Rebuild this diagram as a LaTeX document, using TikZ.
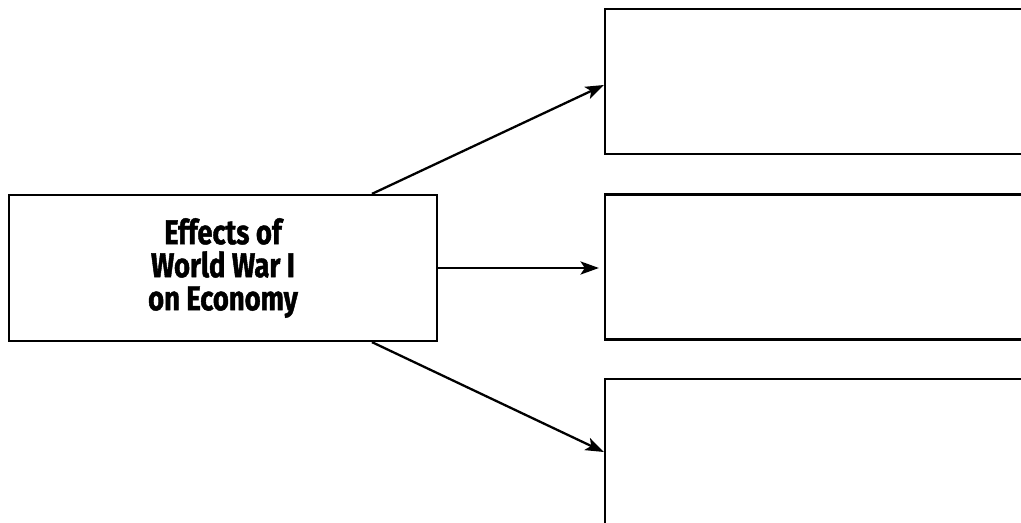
\documentclass[tikz,border=0pt]{standalone}
\usepackage{fontspec}
\newfontfamily\boxfont{Fira Sans}[FakeStretch=0.8,BoldFeatures={FakeBold=1.2}]
\usetikzlibrary{arrows.meta}
\begin{document}
\begin{tikzpicture}[x=0.02cm,y=-0.02cm,>={Stealth[length=10.5pt,width=7.5pt,inset=2.5pt]},line width=1.3pt]
\tikzset{box/.style={draw,line width=1.3pt,inner sep=0pt}}
\useasboundingbox (0,0) rectangle (1021,523);
\clip (0,0) rectangle (1021,523);
\node[box,minimum width=8.56cm,minimum height=2.92cm,align=center,
  font=\boxfont\bfseries\fontsize{19.5}{18.8}\selectfont] (effects) at (223,268)
  {Effects of\\World War I\\on Economy};
\node[box,minimum width=9.2cm,minimum height=2.9cm] (top) at (835,81.5) {};
\node[box,minimum width=9.2cm,minimum height=2.9cm] (mid) at (835,267) {};
\node[box,minimum width=9.2cm,minimum height=3.62cm] (bot) at (835,469.5) {};
\coordinate (a) at ([xshift=2.98cm]effects.north);
\coordinate (b) at ([xshift=2.98cm]effects.south);
\draw[->] (a)--([yshift=-0.07cm]top.west);
\draw[->] (effects.east)--([xshift=-0.1cm]effects.east -| mid.west);
\draw[->] (b)--(bot.west |- 0,452);
\end{tikzpicture}
\end{document}
